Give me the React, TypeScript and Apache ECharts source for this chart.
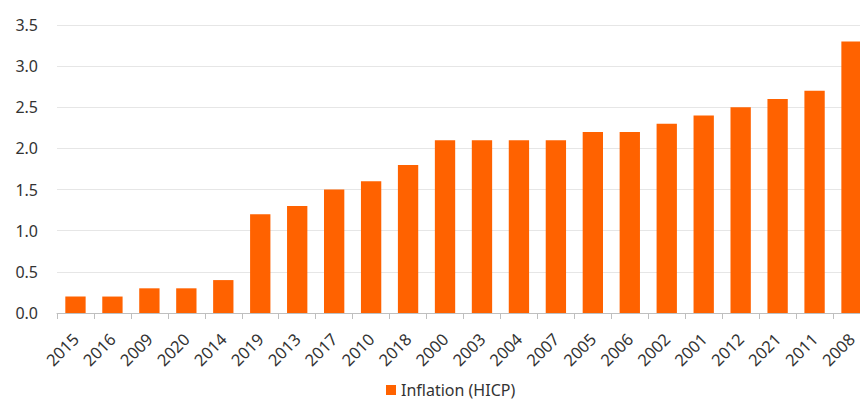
import React, { useEffect, useRef } from "react";
import * as echarts from "echarts";

const categories = ["2015", "2016", "2009", "2020", "2014", "2019", "2013", "2017", "2010", "2018", "2000", "2003", "2004", "2007", "2005", "2006", "2002", "2001", "2012", "2021", "2011", "2008"];
const inflation = [0.2, 0.2, 0.3, 0.3, 0.4, 1.2, 1.3, 1.5, 1.6, 1.8, 2.1, 2.1, 2.1, 2.1, 2.2, 2.2, 2.3, 2.4, 2.5, 2.6, 2.7, 3.3];
const seriesName = "Inflation (HICP)";

export default function App() {
  const ref = useRef<HTMLDivElement>(null);
  useEffect(() => {
    document.body.style.margin = "0";
    const chart = echarts.init(ref.current!, null, { renderer: "svg" });
    const font = "'Noto Sans', sans-serif";
    chart.setOption({
      animation: false,
      backgroundColor: "#ffffff",
      textStyle: { fontFamily: font },
      grid: { left: 57, right: 0, top: 25, bottom: 92, containLabel: false },
      legend: {
        data: [seriesName],
        bottom: 2,
        left: 381,
        icon: "rect",
        itemWidth: 10,
        itemHeight: 10,
        itemGap: 6,
        textStyle: { fontSize: 16, color: "#333333", fontFamily: font },
      },
      xAxis: {
        type: "category",
        data: categories,
        axisLine: { lineStyle: { color: "#bfbfbf", width: 1 } },
        axisTick: { show: true, length: 6, lineStyle: { color: "#bfbfbf" } },
        axisLabel: { rotate: 45, fontSize: 16.5, color: "#333333", margin: 23, fontFamily: font, interval: 0 },
      },
      yAxis: {
        type: "value",
        min: 0,
        max: 3.5,
        interval: 0.5,
        axisLine: { show: false },
        axisTick: { show: false },
        splitLine: { lineStyle: { color: "#e6e6e6", width: 1 } },
        axisLabel: {
          fontSize: 16,
          color: "#333333",
          margin: 19,
          fontFamily: font,
          formatter: (v: number) => v.toFixed(1),
        },
      },
      series: [
        {
          name: seriesName,
          type: "bar",
          data: inflation,
          barCategoryGap: "45%",
          itemStyle: { color: "#FF6200" },
        },
      ],
    });
    return () => chart.dispose();
  }, []);
  return (
    <div style={{ width: 860, height: 405, overflow: "hidden", position: "relative" }}>
      <div ref={ref} style={{ width: 870, height: 405 }} />
    </div>
  );
}
